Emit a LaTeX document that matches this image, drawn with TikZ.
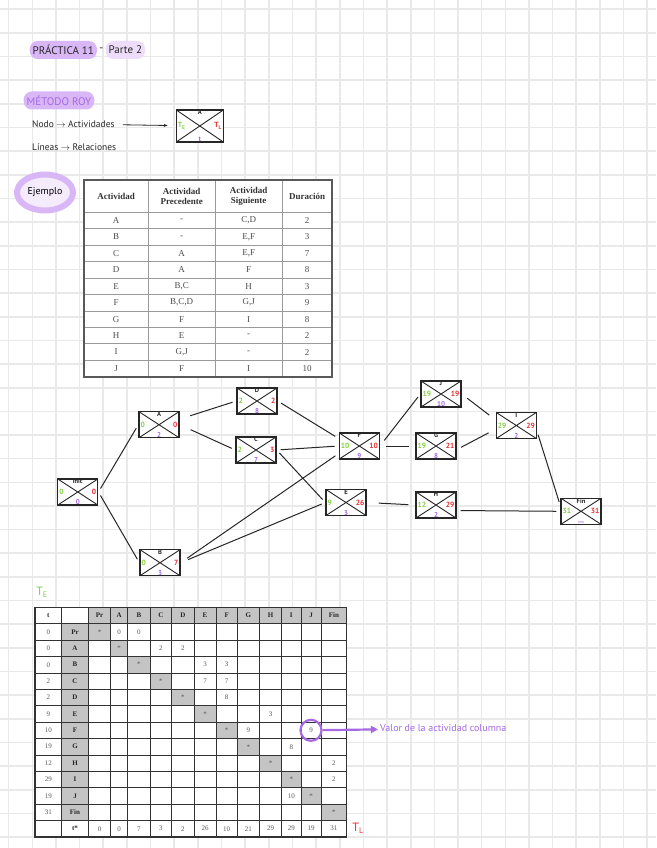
\documentclass[tikz,border=0pt]{standalone}
\usepackage{fontspec}
\setmainfont{Liberation Serif}
\newfontfamily\mano{PT Sans}
\usetikzlibrary{positioning,arrows.meta,shapes.geometric}
\definecolor{papel}{HTML}{E9E9E9}
\definecolor{verde}{HTML}{86CF45}
\definecolor{rojo}{HTML}{E8302F}
\definecolor{morado}{HTML}{A569E3}
\definecolor{lila}{HTML}{D9B6F6}
\definecolor{lilaclaro}{HTML}{EDDDFB}
\definecolor{gris}{HTML}{C4C4C4}
\definecolor{tinta}{HTML}{262626}

\begin{document}
\begin{tikzpicture}[x=1pt,y=-1pt,
  cuadro/.style={draw=papel,line width=1.6pt},
  resalte/.style={fill=lila,rounded corners=8pt,inner xsep=3pt,minimum height=18pt,text=tinta,font=\mano\fontsize{11}{13}\selectfont},
  nota/.style={anchor=west,inner sep=1pt,text=tinta,font=\mano\fontsize{9.5}{11}\selectfont},
  ejemplo/.style={ellipse,draw=lila,line width=6pt,fill=lilaclaro!60,minimum width=56pt,minimum height=36pt,inner sep=0pt,font=\mano\fontsize{10}{12}\selectfont},
  act/.style={draw=tinta,fill=white,line width=1.3pt,minimum width=40pt,minimum height=26pt,inner sep=0pt,
    path picture={\draw[tinta,line width=0.9pt] (path picture bounding box.north west) -- (path picture bounding box.south east)
      (path picture bounding box.south west) -- (path picture bounding box.north east);}},
  tope/.style={anchor=north,inner sep=0.6pt,text=tinta,font=\mano\bfseries\fontsize{6.5}{7}\selectfont},
  te/.style={anchor=west,inner sep=2pt,text=verde,font=\mano\bfseries\fontsize{7.5}{8}\selectfont},
  tl/.style={anchor=east,inner sep=2pt,text=rojo,font=\mano\bfseries\fontsize{7.5}{8}\selectfont},
  dur/.style={anchor=south,inner sep=0.6pt,text=morado,font=\mano\bfseries\fontsize{7}{7.5}\selectfont},
  arista/.style={draw=tinta,line width=1pt,shorten <=4pt,shorten >=4pt},
  tlinea/.style={draw=black!40,line width=0.7pt},
  tcab/.style={align=center,inner sep=0pt,text=black!80,font=\bfseries\fontsize{9}{10.5}\selectfont},
  tcel/.style={inner sep=0pt,text=black!70,font=\fontsize{9}{10}\selectfont},
  mlinea/.style={draw=black!80,line width=0.6pt},
  mcab/.style={inner sep=0pt,text=black!85,font=\bfseries\fontsize{7}{8}\selectfont},
  mcel/.style={inner sep=0pt,text=black!65,font=\fontsize{7}{8}\selectfont},
]
\useasboundingbox (0,0) rectangle (656,848);
\fill[white] (0,0) rectangle (656,848);
% cuadricula
\foreach \i in {0,...,27} \draw[cuadro] ({8.65+23.65*\i},0) -- ({8.65+23.65*\i},848);
\foreach \j in {0,...,35} \draw[cuadro] (0,{9.3+23.65*\j}) -- (656,{9.3+23.65*\j});

% titulo
\node[resalte] (titulo) at (63.3,50) {PRÁCTICA 11};
\node[nota,font=\mano\fontsize{11}{13}\selectfont,right=1pt of titulo] (guion) {-};
\node[resalte,fill=lilaclaro,right=1pt of guion] (parte) {Parte 2};
\node[resalte,text=morado] (metodo) at (59,100.5) {MÉTODO ROY};
\node[nota] (nodo) at (31,124) {Nodo $\rightarrow$ Actividades};
\node[nota] (lineas) at (31,147) {Líneas $\rightarrow$ Relaciones};
\node[act,minimum width=47pt,minimum height=32pt,
  label={[tope]north:A},label={[te]west:T\textsubscript{E}},
  label={[tl]east:T\textsubscript{L}},label={[dur]south:t}] (ejnodo) at (199.8,126) {};
\draw[-{Stealth[length=4pt]},tinta,line width=0.8pt,shorten <=7pt,shorten >=8pt] (nodo) -- (ejnodo);
\node[ejemplo] (ejem) at (45,192.5) {Ejemplo};

% tabla de actividades
\fill[white] (84,180) rectangle (332,377);
\foreach \x in {148.3,215,282.3} \draw[tlinea] (\x,180) -- (\x,377);
\foreach \k in {0,...,9} \draw[tlinea] (84,{212.3+16.44*\k}) -- (332,{212.3+16.44*\k});
\draw[draw=black!65,line width=1.3pt] (84,180) rectangle (332,377);
\node[tcab] (h1) at (116.2,196.2) {Actividad};
\node[tcab] (h2) at (181.7,196.2) {Actividad\\Precedente};
\node[tcab] (h3) at (248.7,196.2) {Actividad\\Siguiente};
\node[tcab] (h4) at (307.2,196.2) {Duración};
\foreach \ac/\pr/\si/\du [count=\k from 0] in {A/-/{C,D}/2, B/-/{E,F}/3, C/A/{E,F}/7, D/A/F/8,
    E/{B,C}/H/3, F/{B,C,D}/{G,J}/9, G/F/I/8, H/E/-/2, I/{G,J}/-/2, J/F/I/10} {
  \node[tcel] (ac\k) at (116.2,{220.5+16.44*\k}) {\ac};
  \node[tcel] (pr\k) at (181.7,{220.5+16.44*\k}) {\pr};
  \node[tcel] (si\k) at (248.7,{220.5+16.44*\k}) {\si};
  \node[tcel] (du\k) at (307.2,{220.5+16.44*\k}) {\du};
}

% red
\node[act,label={[tope]north:Inic},label={[te]west:0},label={[tl]east:0},label={[dur]south:0}] (ini) at (77.8,492) {};
\node[act,label={[tope]north:A},label={[te]west:0},label={[tl]east:0},label={[dur]south:2}] (A) at (159,424.7) {};
\node[act,label={[tope]north:D},label={[te]west:2},label={[tl]east:2},label={[dur]south:8}] (D) at (257,401) {};
\node[act,label={[tope]north:C},label={[te]west:2},label={[tl]east:3},label={[dur]south:7}] (C) at (256,450) {};
\node[act,label={[tope]north:B},label={[te]west:0},label={[tl]east:7},label={[dur]south:3}] (B) at (160,562.7) {};
\node[act,label={[tope]north:F},label={[te]west:10},label={[tl]east:10},label={[dur]south:9}] (F) at (359.3,446) {};
\node[act,label={[tope]north:E},label={[te]west:9},label={[tl]east:26},label={[dur]south:3}] (E) at (346,502.5) {};
\node[act,label={[tope]north:J},label={[te]west:19},label={[tl]east:19},label={[dur]south:10}] (J) at (441,394) {};
\node[act,label={[tope]north:G},label={[te]west:19},label={[tl]east:21},label={[dur]south:8}] (G) at (436,446) {};
\node[act,label={[tope]north:I},label={[te]west:29},label={[tl]east:29},label={[dur]south:2}] (I) at (516.3,425.5) {};
\node[act,label={[tope]north:H},label={[te]west:12},label={[tl]east:29},label={[dur]south:2}] (H) at (436,505) {};
\node[act,label={[tope]north:Fin},label={[te]west:31},label={[tl]east:31},label={[dur]south:---}] (Fin) at (581,511.3) {};

\path[arista]
  (ini.east) edge (A.west)
             edge (B.west)
  (A.15) edge[shorten <=11pt] (D.west)
  (A.east) edge[shorten <=12pt] (C.west)
  (D.east) edge (F.160)
  (C.east) edge (F.west)
           edge (E.west)
  (B.east) edge[shorten <=8pt] (F.200)
           edge[shorten <=8pt] (E.west)
  (F.east) edge[shorten <=7pt] (J.west)
           edge[shorten <=6pt,shorten >=6pt] (G.west)
  (E.east) edge[shorten <=12pt,shorten >=7pt] (H.west)
  (J.east) edge[shorten <=7pt,shorten >=8pt] (I.165)
  (G.-10) edge[shorten <=5pt,shorten >=8pt] (I.190)
  (I.-15) edge (Fin.165)
  (H.-15) edge (Fin.west);

% matriz
\node[font=\mano\fontsize{12}{13}\selectfont,text=verde] (tE) at (42,592) {T\textsubscript{E}};
\fill[white] (35,607.3) rectangle (346.7,836.9);
\fill[gris] (88.3,607.3) rectangle (346.7,623.7);
\fill[gris] (61.7,623.7) rectangle (88.3,820.5);
\node[mcab] (tcol) at (48.35,615.5) {t};
\node[mcab] (tast) at (75,828.7) {t*};
\foreach \n/\xa/\xb/\vt/\vs [count=\i] in {Pr/88.3/110.7/0/0, A/110.7/127.7/0/0, B/127.7/150/0/7,
    C/150/171.7/2/3, D/171.7/194/2/2, E/194/216/9/26, F/216/237.3/10/10, G/237.3/259.3/19/21,
    H/259.3/281.7/12/29, I/281.7/301/29/29, J/301/321/19/19, Fin/321/346.7/31/31} {
  \fill[gris] (\xa,{607.3+16.4*\i}) rectangle (\xb,{607.3+16.4*(\i+1)});
  \node[mcab] (col-\n) at ({(\xa+\xb)/2},615.5) {\n};
  \node[mcab] (fila-\n) at (75,{615.5+16.4*\i}) {\n};
  \node[mcel] (diag-\n) at ({(\xa+\xb)/2},{615.5+16.4*\i}) {*};
  \node[mcel] (t-\n) at (48.35,{615.5+16.4*\i}) {\vt};
  \node[mcel] (ts-\n) at ({(\xa+\xb)/2},828.7) {\vs};
}
\foreach \x/\r/\v [count=\i] in {119.2/1/0, 138.85/1/0, 160.85/2/2, 182.85/2/2, 205/3/3, 226.65/3/3,
    205/4/7, 226.65/4/7, 226.65/5/8, 270.5/6/3, 248.3/7/9, 291.35/8/8, 333.85/9/2, 333.85/10/2, 291.35/11/10}
  \node[mcel] (v\i) at (\x,{615.5+16.4*\r}) {\v};
\foreach \x in {110.7,127.7,150,171.7,194,216,237.3,259.3,281.7,301,321} \draw[mlinea] (\x,607.3) -- (\x,836.9);
\foreach \k in {2,...,12} \draw[mlinea] (35,{607.3+16.4*\k}) -- (346.7,{607.3+16.4*\k});
\draw[mlinea,line width=1.3pt] (61.7,607.3) -- (61.7,836.9) (88.3,607.3) -- (88.3,836.9)
  (35,623.7) -- (346.7,623.7) (35,820.5) -- (346.7,820.5);
\draw[mlinea,line width=1.5pt] (35,607.3) rectangle (346.7,836.9);
\node[font=\mano\fontsize{12}{13}\selectfont,text=rojo] (tL) at (358,828) {T\textsubscript{L}};

% nota de la matriz
\node[circle,draw=morado,line width=2.2pt,minimum size=21pt,inner sep=0pt,mcel] (marca) at (311,730.3) {9};
\node[nota,text=morado,font=\mano\fontsize{10}{12}\selectfont] (valor) at (379,728.5) {Valor de la actividad columna};
\draw[morado,line width=2.2pt,-{Triangle[length=7pt,width=7pt]},shorten >=1pt] (marca) -- (valor);
\end{tikzpicture}
\end{document}
